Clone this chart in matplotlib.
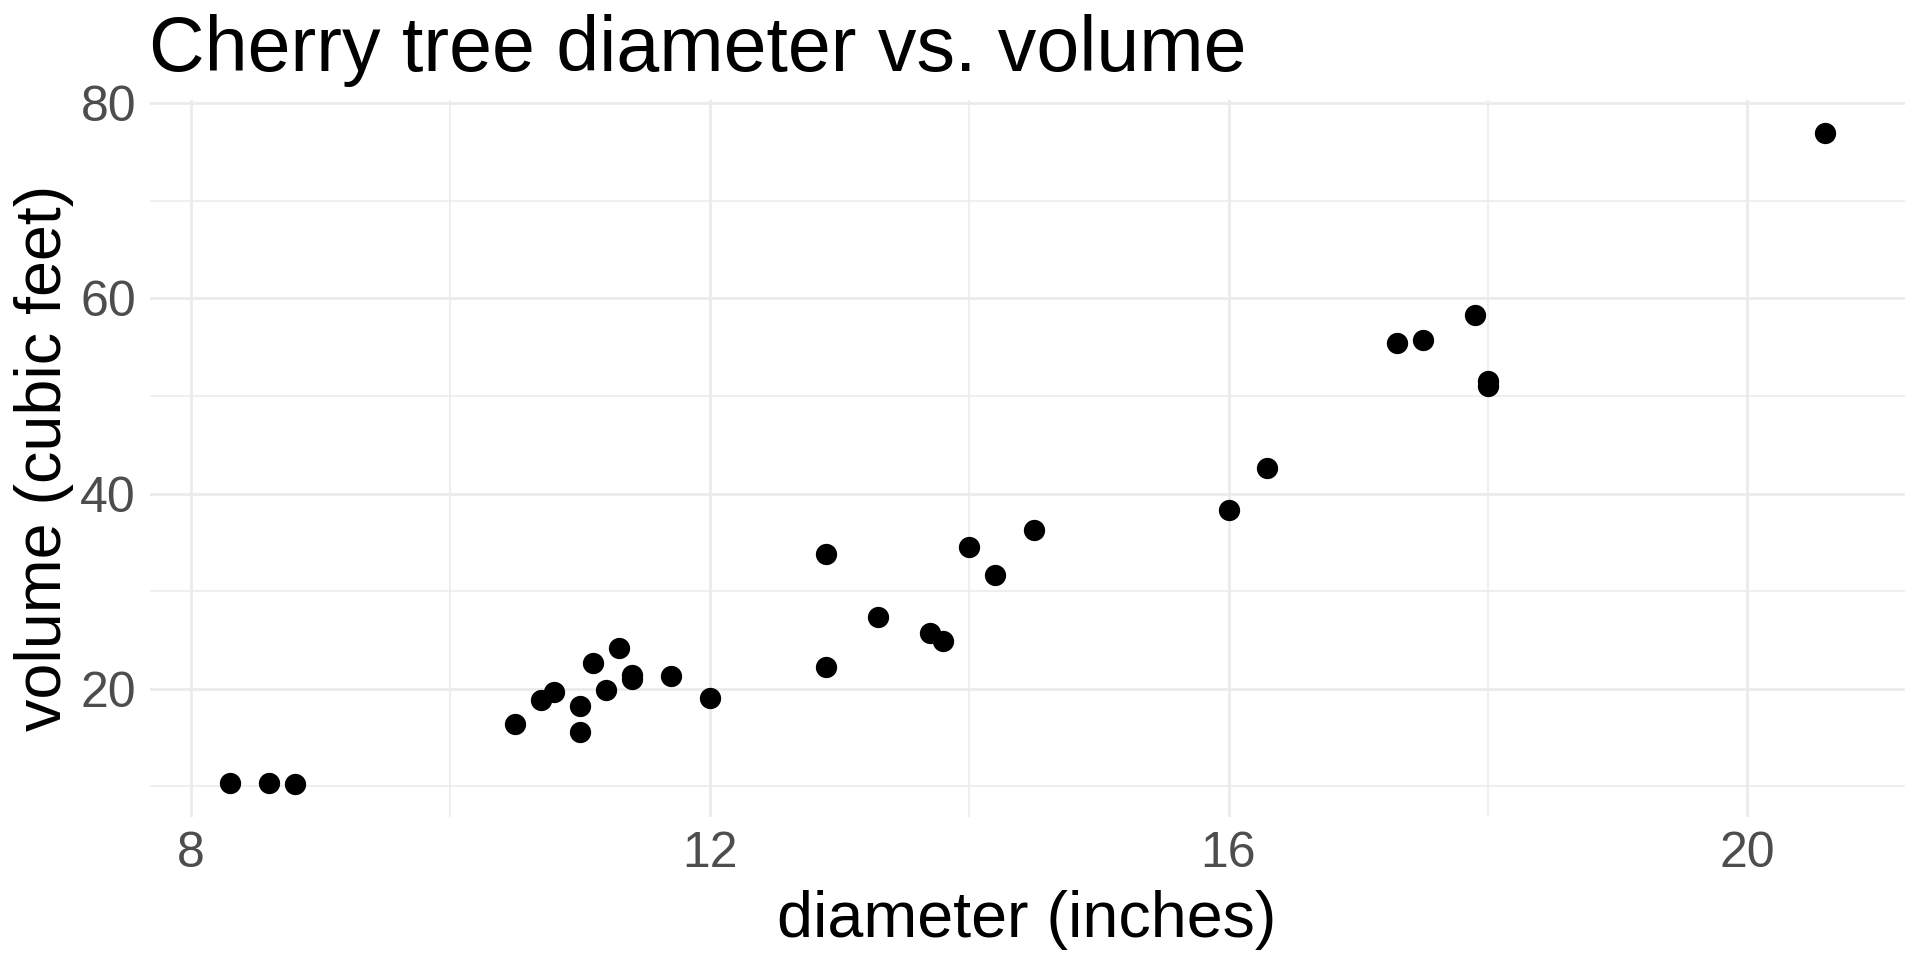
import matplotlib
matplotlib.use("Agg")
import matplotlib.pyplot as plt
from matplotlib.ticker import MultipleLocator

# black cherry trees: girth (inches) and volume (cubic feet)
diameter = [8.3, 8.6, 8.8, 10.5, 10.7, 10.8, 11.0, 11.0, 11.1, 11.2, 11.3,
            11.4, 11.4, 11.7, 12.0, 12.9, 12.9, 13.3, 13.7, 13.8, 14.0, 14.2,
            14.5, 16.0, 16.3, 17.3, 17.5, 17.9, 18.0, 18.0, 20.6]
volume = [10.3, 10.3, 10.2, 16.4, 18.8, 19.7, 15.6, 18.2, 22.6, 19.9, 24.2,
          21.0, 21.4, 21.3, 19.1, 22.2, 33.8, 27.4, 25.7, 24.9, 34.5, 31.7,
          36.3, 38.3, 42.6, 55.4, 55.7, 58.3, 51.5, 51.0, 77.0]
x_ticks = [8, 12, 16, 20]
y_ticks = [20, 40, 60, 80]

plt.rcParams["font.family"] = ["Liberation Sans", "DejaVu Sans"]

fig = plt.figure(figsize=(19.2, 9.6), dpi=100)
ax = fig.add_axes([150 / 1920, 1 - 817 / 960, 1755 / 1920, 717 / 960])

ax.scatter(diameter, volume, s=235, c="black", linewidths=0, zorder=3)

# ggplot-like 5% expansion
xr = max(diameter) - min(diameter)
yr = max(volume) - min(volume)
ax.set_xlim(min(diameter) - 0.05 * xr, max(diameter) + 0.05 * xr)
ax.set_ylim(min(volume) - 0.05 * yr, max(volume) + 0.05 * yr)

ax.set_xticks(x_ticks)
ax.set_yticks(y_ticks)
ax.xaxis.set_minor_locator(MultipleLocator(2))
ax.yaxis.set_minor_locator(MultipleLocator(10))
ax.grid(True, which="major", color="#EBEBEB", lw=1.95)
ax.grid(True, which="minor", color="#EBEBEB", lw=1.1)
ax.set_axisbelow(True)
for s in ax.spines.values():
    s.set_visible(False)
ax.tick_params(which="both", length=0)
ax.tick_params(axis="x", labelsize=36, labelcolor="#4D4D4D", pad=10)
ax.tick_params(axis="y", labelsize=36, labelcolor="#4D4D4D", pad=10)

fig.text(149 / 1920, 1 - 71 / 960, "Cherry tree diameter vs. volume",
         fontsize=55.5, ha="left", va="baseline")
fig.text(1027 / 1920, 1 - 937 / 960, "diameter (inches)",
         fontsize=46.5, ha="center", va="baseline")
fig.text(61 / 1920, 1 - 458 / 960, "volume (cubic feet)", fontsize=46.5,
         rotation=90, rotation_mode="anchor", ha="center", va="baseline")

fig.savefig("out.png", dpi=100, facecolor="white")
